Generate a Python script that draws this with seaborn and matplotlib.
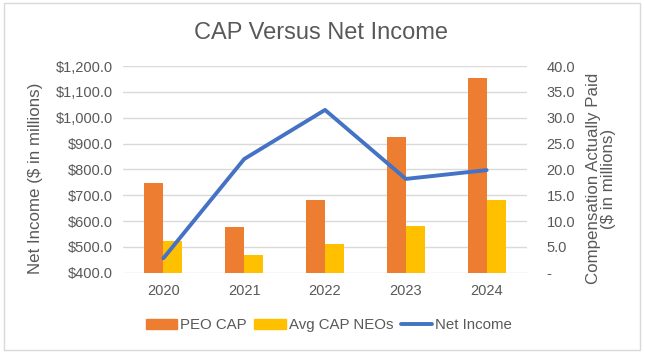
import numpy as np
import pandas as pd
import seaborn as sns
import matplotlib
matplotlib.use('Agg')
import matplotlib.pyplot as plt
from matplotlib.patches import Patch, Rectangle
from matplotlib.lines import Line2D
from matplotlib.ticker import FuncFormatter

# values
years = ['2020', '2021', '2022', '2023', '2024']
peo_cap = [17.4, 8.8, 14.1, 26.2, 37.6]        # $ in millions (right axis)
avg_neo_cap = [6.1, 3.4, 5.6, 9.0, 14.1]       # $ in millions (right axis)
net_income = [456, 840, 1030, 763, 797]        # $ in millions (left axis)
series_names = ['PEO CAP', 'Avg CAP NEOs']

orange = '#ED7D31'
yellow = '#FFC000'
blue = '#4472C4'
grey_text = '#595959'
grid_col = '#D9D9D9'

sns.set_theme(style='white')
plt.rcParams['font.family'] = ['Liberation Sans', 'DejaVu Sans']

bars = pd.DataFrame({
    'year': years * 2,
    'series': [series_names[0]] * len(years) + [series_names[1]] * len(years),
    'value': peo_cap + avg_neo_cap,
})

fig = plt.figure(figsize=(6.45, 3.53), dpi=100)
ax = fig.add_axes([0.1907, 0.2275, 0.6264, 0.5855])
ax2 = ax.twinx()

# bars on the compensation axis (right side)
sns.barplot(data=bars, x='year', y='value', hue='series', hue_order=series_names,
            palette=[orange, yellow], width=0.47, saturation=1, linewidth=0,
            legend=False, ax=ax)
ax.set_ylim(0, 40)
ax.set_yticks(np.arange(0, 41, 5))
ax.yaxis.set_major_formatter(FuncFormatter(lambda v, p: '-' if v == 0 else f'{v:.1f}'))
ax.yaxis.tick_right()
ax.yaxis.set_label_position('right')
ax.yaxis.grid(True, color=grid_col, lw=1)
ax.set_axisbelow(True)
ax.set_xlabel('')
ax.set_ylabel('Compensation Actually Paid\n($ in millions)', fontsize=12.2,
              color=grey_text, linespacing=1.0)
ax.yaxis.set_label_coords(1.145, 0.455)

# net income line on the left axis
sns.lineplot(x=np.arange(len(years)), y=net_income, color=blue, lw=2.8, ax=ax2)
ax2.set_ylim(400, 1200)
ax2.set_yticks(np.arange(400, 1201, 100))
ax2.yaxis.set_major_formatter(FuncFormatter(lambda v, p: f'${v:,.1f}'))
ax2.yaxis.tick_left()
ax2.yaxis.set_label_position('left')
ax2.set_ylabel('Net Income ($ in millions)', fontsize=12.2, color=grey_text)
ax2.yaxis.set_label_coords(-0.198, 0.455)
ax2.grid(False)

ax.set_xlim(-0.5, len(years) - 0.5)
ax.set_xticks(range(len(years)))
ax.set_xticklabels(years)

for a in (ax, ax2):
    for s in a.spines.values():
        s.set_visible(False)
ax.tick_params(axis='y', length=0, labelsize=10.5, colors=grey_text, pad=14)
ax.tick_params(axis='x', length=0, labelsize=10.5, colors=grey_text, pad=8)
ax2.tick_params(axis='y', length=0, labelsize=10.5, colors=grey_text, pad=7.5)

fig.text(0.497, 0.907, 'CAP Versus Net Income', ha='center', va='center',
         fontsize=17, color=grey_text)

handles = [Patch(color=orange), Patch(color=yellow), Line2D([], [], color=blue, lw=2.8)]
fig.legend(handles, series_names + ['Net Income'], loc='center',
           bbox_to_anchor=(0.51, 1 - 325 / 353), ncol=3, frameon=False, fontsize=10.8,
           handlelength=2.1, handletextpad=0.2, columnspacing=0.5, labelcolor=grey_text)

fig.add_artist(Rectangle((0.006, 0.008), 0.986, 0.984, transform=fig.transFigure,
                         fill=False, edgecolor=grid_col, lw=1))

fig.savefig('out.png', dpi=100)
